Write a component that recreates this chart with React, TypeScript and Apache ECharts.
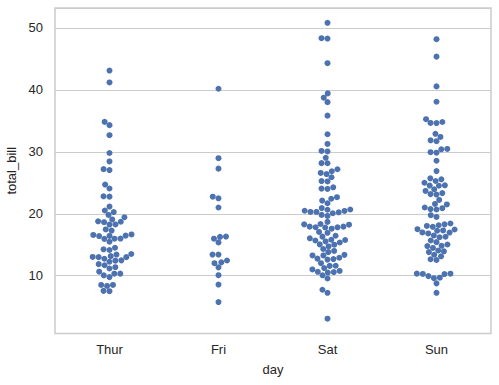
import React, { useEffect, useRef } from "react";
import * as echarts from "echarts";

const days = ["Thur", "Fri", "Sat", "Sun"];

const thur = [
  27.2, 22.76, 17.29, 19.44, 16.66, 10.07, 32.68, 15.98, 34.83, 13.03, 18.28, 24.71, 21.16,
  10.65, 12.43, 24.08, 11.69, 13.42, 14.26, 15.95, 12.48, 29.8, 8.52, 14.52, 11.38, 22.82,
  19.08, 20.27, 11.17, 12.26, 18.26, 8.51, 10.33, 14.15, 16.0, 13.16, 17.47, 34.3, 41.19,
  27.05, 16.43, 8.35, 18.64, 11.87, 9.78, 7.51, 19.81, 28.44, 15.48, 16.58, 7.56, 10.34,
  43.11, 13.0, 13.51, 18.71, 12.74, 13.0, 16.4, 20.53, 16.47, 18.78,
];

const fri = [
  28.97, 22.49, 5.75, 16.32, 22.75, 40.17, 27.28, 12.03, 21.01, 12.46, 11.35, 15.38, 12.16,
  13.42, 8.58, 15.98, 13.42, 16.27, 10.09,
];

const sat = [
  20.65, 17.92, 20.29, 15.77, 39.42, 19.82, 17.81, 13.37, 12.69, 21.7, 19.65, 9.55, 18.35,
  15.06, 20.69, 17.78, 24.06, 16.31, 16.93, 18.69, 31.27, 16.04, 38.01, 26.41, 11.24, 48.27,
  20.29, 13.81, 11.02, 18.29, 17.59, 20.08, 16.45, 3.07, 20.23, 15.01, 12.02, 17.07, 26.86,
  25.28, 14.73, 10.51, 17.92, 44.3, 22.42, 20.92, 15.36, 20.49, 25.21, 18.24, 14.31, 14.0,
  7.25, 10.59, 10.63, 50.81, 15.81, 26.59, 38.73, 24.27, 12.76, 30.06, 25.89, 48.33, 13.27,
  28.17, 12.9, 28.15, 11.59, 7.74, 30.14, 20.45, 13.28, 22.12, 24.01, 15.69, 11.61, 10.77,
  15.53, 10.07, 12.6, 32.83, 35.83, 29.03, 27.18, 22.67, 17.82,
];

const sun = [
  16.99, 10.34, 21.01, 23.68, 24.59, 25.29, 8.77, 26.88, 15.04, 14.78, 10.27, 35.26, 15.42,
  18.43, 14.83, 21.58, 10.33, 16.29, 16.97, 17.46, 13.94, 9.68, 30.4, 18.29, 22.23, 32.4,
  28.55, 18.04, 12.54, 10.29, 34.81, 9.94, 25.56, 19.49, 38.07, 23.95, 25.71, 17.31, 29.93,
  14.07, 13.13, 17.26, 24.55, 19.77, 29.85, 48.17, 25.0, 13.39, 16.49, 21.5, 12.66, 16.21,
  13.81, 17.51, 24.52, 20.76, 31.71, 7.25, 31.85, 16.82, 32.9, 17.89, 14.48, 9.6, 34.63,
  34.65, 23.33, 45.35, 23.17, 40.55, 20.69, 20.9, 30.46, 18.15, 23.1, 15.69,
];

const groups = [thur, fri, sat, sun];
const yTicks = [10, 20, 30, 40, 50];

const DOT_COLOR = "#4C72B0";
const TEXT_COLOR = "#262626";
const LINE_COLOR = "#cccccc";
const FONT = "'Liberation Sans', Arial, sans-serif";
const SWARM_R = 2.85;
const DRAW_R = 3;

// seaborn-style beeswarm: ys are upward pixel positions; returns x offsets (px)
function beeswarm(ys: number[], r: number): number[] {
  const order = ys.map((_, i) => i).sort((a, b) => ys[a] - ys[b] || a - b);
  const placed: { x: number; y: number }[] = [];
  const offsets = new Array(ys.length).fill(0);
  for (const idx of order) {
    const y = ys[idx];
    const nb: { x: number; y: number }[] = [];
    for (let j = placed.length - 1; j >= 0; j--) {
      if (y - placed[j].y < 2 * r) nb.push(placed[j]);
      else break;
    }
    nb.reverse();
    const cands: number[] = [0];
    let leftFirst = true;
    for (const p of nb) {
      const dy = y - p.y;
      const dx = Math.sqrt(Math.max(4 * r * r - dy * dy, 0)) * 1.05;
      const cl = p.x - dx;
      const cr = p.x + dx;
      if (leftFirst) cands.push(cl, cr);
      else cands.push(cr, cl);
      leftFirst = !leftFirst;
    }
    const sorted = cands
      .map((c, i) => ({ c, i }))
      .sort((a, b) => Math.abs(a.c) - Math.abs(b.c) || a.i - b.i);
    let chosen = 0;
    for (const { c } of sorted) {
      let ok = true;
      for (const p of nb) {
        const ddx = c - p.x;
        const ddy = y - p.y;
        if (ddx * ddx + ddy * ddy < 4 * r * r - 1e-9) {
          ok = false;
          break;
        }
      }
      if (ok) {
        chosen = c;
        break;
      }
    }
    placed.push({ x: chosen, y });
    offsets[idx] = chosen;
  }
  return offsets;
}

export default function App() {
  const ref = useRef<HTMLDivElement>(null);

  useEffect(() => {
    if (!ref.current) return;
    const chart = echarts.init(ref.current, null, { renderer: "svg" });

    const flat: [number, number][] = [];
    groups.forEach((g, ci) => g.forEach((v) => flat.push([ci, v])));

    let cacheKey = "";
    let offsets: number[] = [];

    const computeSwarm = (api: any) => {
      const res: number[] = [];
      groups.forEach((g, ci) => {
        const ys = g.map((v) => -api.coord([ci, v])[1]);
        const offs = beeswarm(ys, SWARM_R);
        offs.forEach((o) => res.push(o));
      });
      return res;
    };

    const option: any = {
      animation: false,
      textStyle: { fontFamily: FONT },
      grid: {
        left: 55,
        right: 8,
        top: 8,
        bottom: 51.5,
        show: true,
        borderColor: LINE_COLOR,
        borderWidth: 1.5,
        backgroundColor: "transparent",
        containLabel: false,
        outerBoundsMode: "none",
      },
      xAxis: {
        type: "category",
        data: days,
        boundaryGap: true,
        name: "day",
        nameLocation: "middle",
        nameGap: 29,
        nameTextStyle: { fontSize: 13, color: TEXT_COLOR, fontFamily: FONT },
        axisLine: { show: false },
        axisTick: { show: false },
        splitLine: { show: false },
        axisLabel: { fontSize: 13, color: TEXT_COLOR, margin: 9, fontFamily: FONT },
      },
      yAxis: {
        type: "value",
        min: 0.68,
        max: 53.2,
        name: "total_bill",
        nameLocation: "middle",
        nameGap: 36,
        nameTextStyle: { fontSize: 13, color: TEXT_COLOR, fontFamily: FONT },
        axisLine: { show: false },
        axisTick: { show: false },
        splitLine: { show: true, lineStyle: { color: LINE_COLOR, width: 1 } },
        axisLabel: {
          fontSize: 13,
          color: TEXT_COLOR,
          margin: 12,
          fontFamily: FONT,
          formatter: (v: number) => (yTicks.includes(Math.round(v * 1000) / 1000) ? String(v) : ""),
        },
      },
      series: [
        {
          type: "custom",
          coordinateSystem: "cartesian2d",
          encode: { x: 0, y: 1 },
          data: flat,
          renderItem: (params: any, api: any) => {
            const key = JSON.stringify(api.coord([0, 10])) + JSON.stringify(api.coord([1, 50]));
            if (key !== cacheKey || params.dataIndex === 0) {
              offsets = computeSwarm(api);
              cacheKey = key;
            }
            const ci = api.value(0);
            const v = api.value(1);
            const p = api.coord([ci, v]);
            return {
              type: "circle",
              shape: { cx: p[0] + offsets[params.dataIndex], cy: p[1], r: DRAW_R },
              style: { fill: DOT_COLOR, stroke: "none" },
            };
          },
        },
      ],
    };

    chart.setOption(option);
    return () => chart.dispose();
  }, []);

  return (
    <div
      ref={ref}
      style={{ position: "fixed", left: 0, top: 0, width: 499, height: 385, background: "#ffffff" }}
    />
  );
}
